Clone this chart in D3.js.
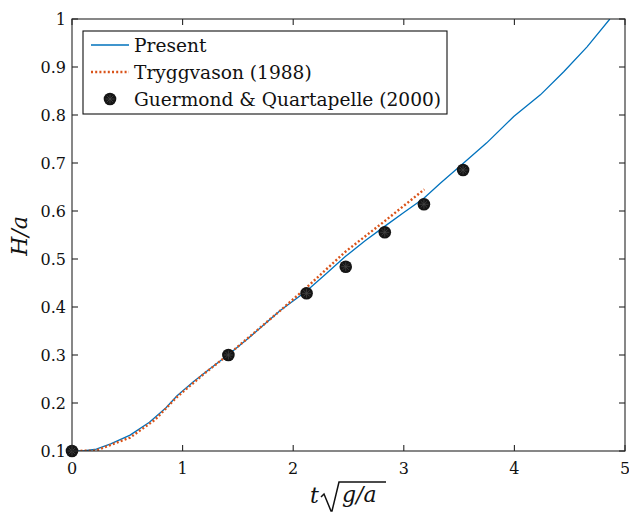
<!DOCTYPE html>
<html><head><meta charset="utf-8">
<script src="https://cdn.jsdelivr.net/npm/d3@7"></script>
<style>body{margin:0;background:#fff}svg{display:block}</style>
</head><body><svg id="c" width="629" height="515"></svg>
<script>
const presentX = [0, 0.1, 0.22, 0.35, 0.525, 0.7, 0.85, 0.95, 1.1, 1.25, 1.41, 1.6, 1.88, 2.118, 2.3, 2.471, 2.65, 2.833, 3.0, 3.179, 3.33, 3.541, 3.75, 3.994, 4.235, 4.446, 4.657, 4.863];
const presentY = [0.1, 0.1, 0.104, 0.115, 0.133, 0.16, 0.19, 0.215, 0.245, 0.272, 0.30, 0.336, 0.392, 0.433, 0.47, 0.505, 0.538, 0.569, 0.597, 0.626, 0.658, 0.700, 0.742, 0.797, 0.842, 0.890, 0.942, 1.0];
const tryggX = [0, 0.22, 0.525, 0.75, 0.947, 1.2, 1.41, 1.88, 2.118, 2.471, 2.833, 3.186];
const tryggY = [0.1, 0.101, 0.128, 0.165, 0.212, 0.262, 0.30, 0.392, 0.440, 0.515, 0.58, 0.645];
const guerX = [0, 1.414, 2.121, 2.475, 2.828, 3.182, 3.536];
const guerY = [0.1, 0.3, 0.4285, 0.484, 0.5556, 0.614, 0.6854];
const xTicks = [0, 1, 2, 3, 4, 5];
const yTicks = [0.1, 0.2, 0.3, 0.4, 0.5, 0.6, 0.7, 0.8, 0.9, 1];
const legendLabels = ["Present", "Tryggvason (1988)", "Guermond & Quartapelle (2000)"];

const FONT = "DejaVu Serif";
const L = 72, R = 625, T = 19, B = 451;
const svg = d3.select("#c");
const x = d3.scaleLinear().domain([0, 5]).range([L, R]);
const y = d3.scaleLinear().domain([0.1, 1]).range([B, T]);
const axisCol = "#262626";

svg.append("clipPath").attr("id", "clip").append("rect").attr("x", L).attr("y", T).attr("width", R - L).attr("height", B - T);

const line = d3.line().x(d => x(d[0])).y(d => y(d[1]));
const g = svg.append("g").attr("clip-path", "url(#clip)");
g.append("path").datum(presentX.map((v, i) => [v, presentY[i]]))
  .attr("d", line).attr("fill", "none").attr("stroke", "#0072BD").attr("stroke-width", 1.3);
g.append("path").datum(tryggX.map((v, i) => [v, tryggY[i]]))
  .attr("d", line).attr("fill", "none").attr("stroke", "#D95319").attr("stroke-width", 2.4).attr("stroke-dasharray", "2,2.2");

function marker(sel, cx, cy) {
  const m = sel.append("g").attr("transform", `translate(${cx},${cy})`);
  m.append("circle").attr("r", 6.3).attr("fill", "#151515");
  for (let k = 0; k < 4; k++) {
    const a = k * Math.PI / 4;
    m.append("line").attr("x1", -4.5 * Math.cos(a)).attr("y1", -4.5 * Math.sin(a))
      .attr("x2", 4.5 * Math.cos(a)).attr("y2", 4.5 * Math.sin(a))
      .attr("stroke", "#444").attr("stroke-width", 0.8);
  }
}
const mk = svg.append("g");
guerX.forEach((v, i) => marker(mk, x(v), y(guerY[i])));

const tickLen = 6;
const ax = svg.append("g").attr("stroke", axisCol).attr("stroke-width", 1.1);
ax.append("rect").attr("x", L).attr("y", T).attr("width", R - L).attr("height", B - T).attr("fill", "none");
xTicks.forEach(t => {
  ax.append("line").attr("x1", x(t)).attr("x2", x(t)).attr("y1", B).attr("y2", B - tickLen);
  ax.append("line").attr("x1", x(t)).attr("x2", x(t)).attr("y1", T).attr("y2", T + tickLen);
});
yTicks.forEach(t => {
  ax.append("line").attr("x1", L).attr("x2", L + tickLen).attr("y1", y(t)).attr("y2", y(t));
  ax.append("line").attr("x1", R).attr("x2", R - tickLen).attr("y1", y(t)).attr("y2", y(t));
});
const fmtY = d3.format("");
svg.append("g").attr("font-family", FONT).attr("fill", "#111").selectAll("text").data(xTicks).join("text")
  .attr("x", d => x(d)).attr("y", 474).attr("text-anchor", "middle").attr("font-size", 16).text(d => d);
svg.append("g").attr("font-family", FONT).attr("fill", "#111").selectAll("text").data(yTicks).join("text")
  .attr("x", 66).attr("y", d => y(d) + 6).attr("text-anchor", "end").attr("font-size", 16).text(d => fmtY(d));

svg.append("text").attr("font-family", FONT).attr("fill", "#111")
  .attr("transform", "translate(27,236) rotate(-90)").attr("text-anchor", "middle")
  .attr("font-size", 22).attr("font-style", "italic").text("H/a");

const xl = svg.append("g").attr("font-family", FONT).attr("fill", "#111");
xl.append("text").attr("x", 310).attr("y", 503).attr("font-size", 22).attr("font-style", "italic").text("t");
const rx = 321;
xl.append("path").attr("d", `M${rx},497 L${rx + 3},494 L${rx + 10},511 L${rx + 11},511 L${rx + 18},482 L386,482`)
  .attr("fill", "none").attr("stroke", "#111").attr("stroke-width", 1.5);
xl.append("text").attr("x", 342).attr("y", 502).attr("font-size", 22).attr("font-style", "italic").text("g/a");

const lg = svg.append("g");
lg.append("rect").attr("x", 83).attr("y", 31).attr("width", 364).attr("height", 83)
  .attr("fill", "#fff").attr("stroke", "#111").attr("stroke-width", 1.1);
const rowsY = [45, 72, 99];
lg.append("line").attr("x1", 91).attr("x2", 129).attr("y1", rowsY[0]).attr("y2", rowsY[0]).attr("stroke", "#0072BD").attr("stroke-width", 1.3);
lg.append("line").attr("x1", 91).attr("x2", 129).attr("y1", rowsY[1]).attr("y2", rowsY[1]).attr("stroke", "#D95319").attr("stroke-width", 2.4).attr("stroke-dasharray", "2,2.2");
marker(lg, 110, rowsY[2]);
legendLabels.forEach((s, i) => {
  lg.append("text").attr("font-family", FONT).attr("fill", "#111")
    .attr("x", 134).attr("y", rowsY[i] + 6.5).attr("font-size", 18.6).text(s);
});
</script></body></html>
